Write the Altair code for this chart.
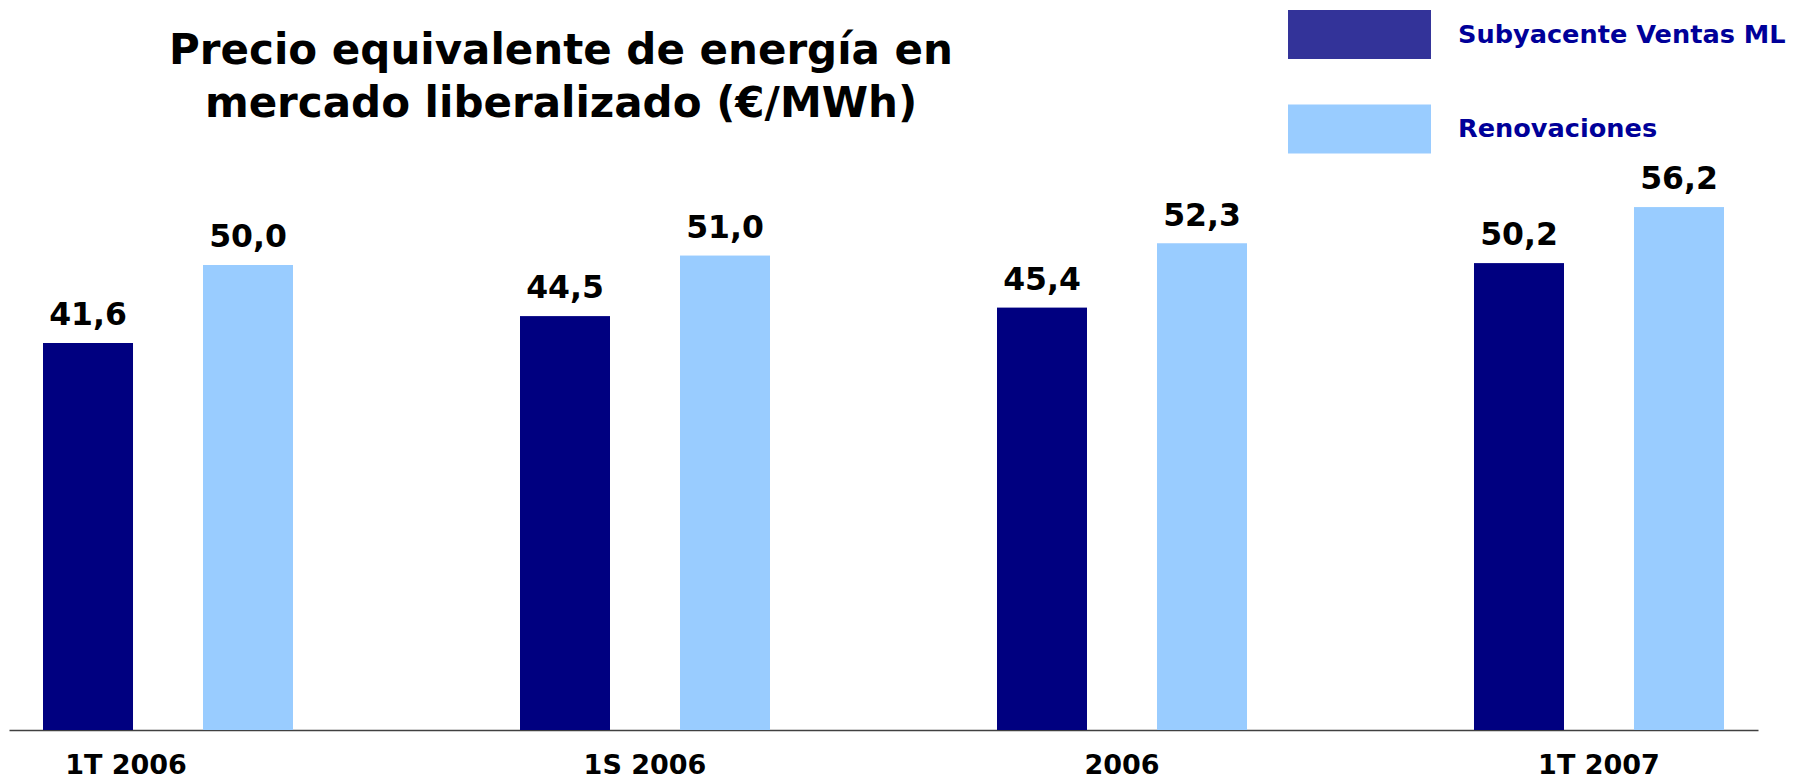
import altair as alt
import pandas as pd

# ---- data ----
categorias = ["1T 2006", "1S 2006", "2006", "1T 2007"]
series = ["Subyacente Ventas ML", "Renovaciones"]
subyacente = [41.6, 44.5, 45.4, 50.2]
renovaciones = [50.0, 51.0, 52.3, 56.2]
titulo = ["Precio equivalente de energía en", "mercado liberalizado (€/MWh)"]

rows = []
for c, a, b in zip(categorias, subyacente, renovaciones):
    rows.append({"periodo": c, "serie": series[0], "valor": a})
    rows.append({"periodo": c, "serie": series[1], "valor": b})
df = pd.DataFrame(rows)
df["etiqueta"] = df["valor"].map(lambda v: f"{v:.1f}".replace(".", ","))

FONT = "DejaVu Sans"

x = alt.X(
    "periodo:N",
    sort=categorias,
    scale=alt.Scale(paddingInner=0.4759, paddingOuter=0.0713),
    axis=alt.Axis(
        title=None,
        labelFont=FONT,
        labelFontSize=27,
        labelFontWeight="bold",
        labelColor="black",
        labelAngle=0,
        labelPadding=22,
        ticks=False,
        grid=False,
        domainColor="#404040",
        domainWidth=1.5,
        labelOffset={"expr": "datum.value === '1T 2006' ? -42 : 0"},
    ),
)
xo = alt.XOffset("serie:N", sort=series, scale=alt.Scale(paddingInner=0.4375, paddingOuter=0))
y = alt.Y("valor:Q", scale=alt.Scale(domain=[0, 60], nice=False), axis=None)

legend_layer = alt.Chart(df).mark_bar().encode(
    x=x,
    xOffset=xo,
    y=y,
    color=alt.Color(
        "serie:N",
        sort=series,
        scale=alt.Scale(domain=series, range=["#333399", "#99CCFF"]),
        legend=alt.Legend(
            title=None,
            orient="none",
            legendX=1326,
            legendY=-162,
            symbolType="M-2.918,-1H2.918V1H-2.918Z",
            symbolSize=2401,
            symbolStrokeWidth=0,
            labelFont=FONT,
            labelFontSize=25.6,
            labelFontWeight="bold",
            labelColor="#000099",
            labelOffset=74,
            rowPadding=45.5,
            padding=0,
            labelLimit=0,
        ),
    ),
)

bars = alt.Chart(df).mark_bar().encode(
    x=x,
    xOffset=xo,
    y=y,
    fill=alt.Fill(
        "serie:N",
        sort=series,
        scale=alt.Scale(domain=series, range=["#000080", "#99CCFF"]),
        legend=None,
    ),
)

text = alt.Chart(df).mark_text(
    font=FONT, fontSize=31.5, fontWeight="bold", color="black", baseline="alphabetic", dy=-18
).encode(x=x, xOffset=xo, y=y, text="etiqueta:N")

chart = (
    alt.layer(legend_layer, bars, text)
    .properties(
        width=1749,
        height=558,
        title=alt.TitleParams(
            text=titulo,
            font=FONT,
            fontSize=42,
            fontWeight="bold",
            color="black",
            anchor="middle",
            frame="group",
            dx=-322.5,
            offset=-116,
            lineHeight=53,
        ),
        padding={"left": 1, "top": 164, "right": 29, "bottom": 49},
        autosize="none",
        background="white",
    )
    .configure_view(stroke="transparent", strokeWidth=0)
)

chart.save("out.html", embed_options={"renderer": "svg", "actions": False})
